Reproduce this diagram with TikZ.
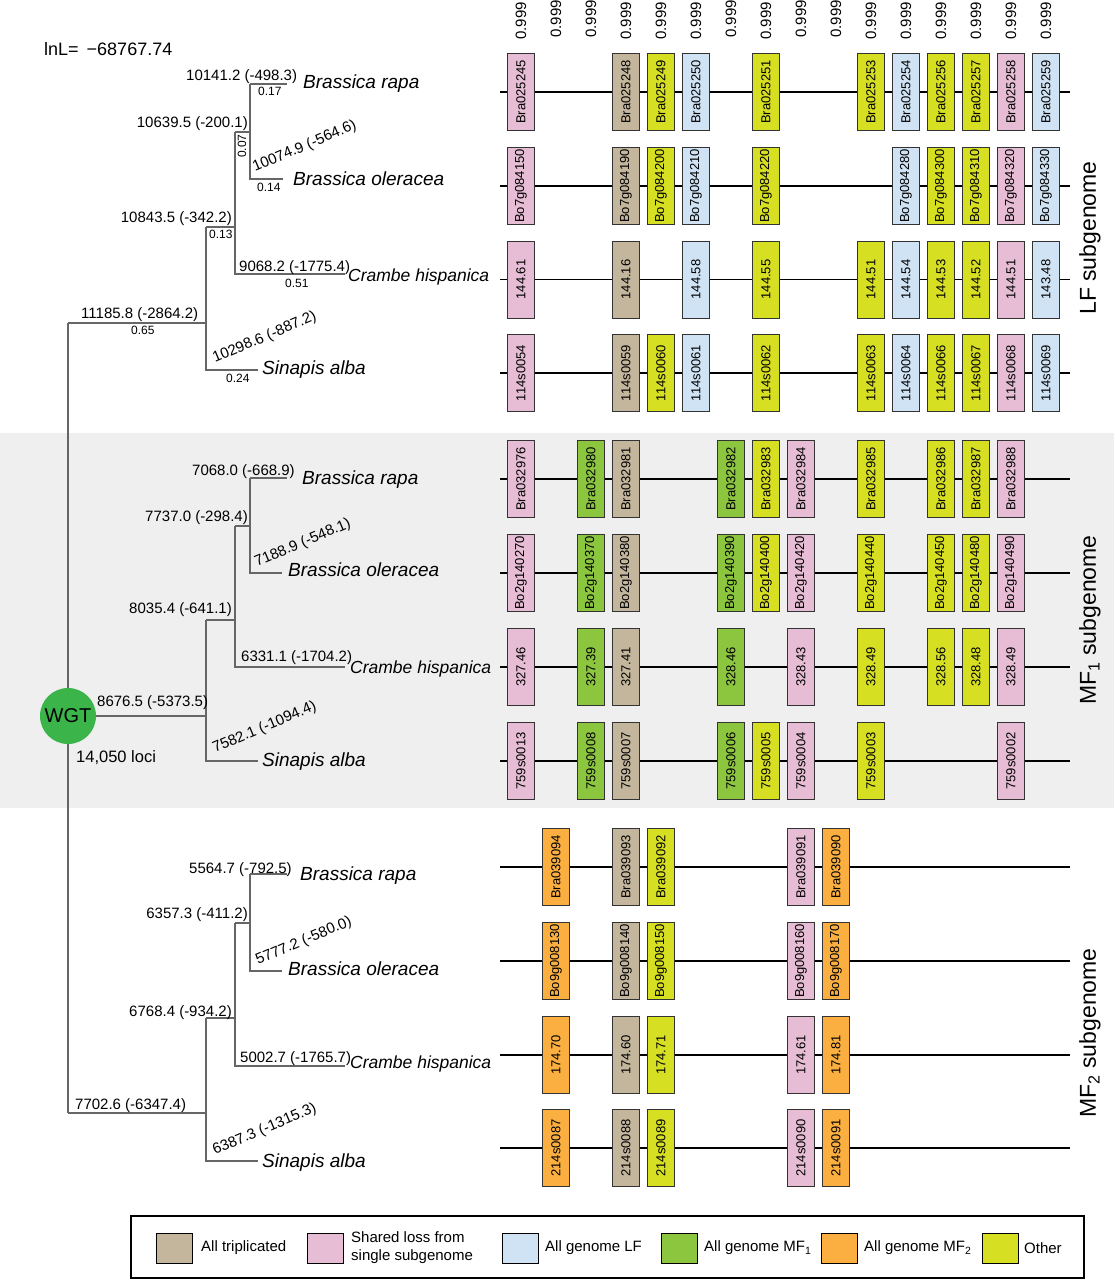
\documentclass[tikz,border=0pt]{standalone}
\usepackage{fontspec}
\setmainfont{Liberation Sans}
\definecolor{cTan}{HTML}{C3B69C}
\definecolor{cPink}{HTML}{E6BDD4}
\definecolor{cBlue}{HTML}{D0E3F4}
\definecolor{cGreen}{HTML}{8CC63F}
\definecolor{cOrange}{HTML}{FBAF40}
\definecolor{cYel}{HTML}{D7DF23}
\definecolor{cWGT}{HTML}{3BB54A}
\definecolor{cBand}{HTML}{EFEFEF}
\definecolor{cTree}{HTML}{666666}
\definecolor{cBorder}{HTML}{333333}
\tikzset{
  br/.style={draw=cTree, line width=1.1pt},
  gl/.style={draw=black, line width=1.3pt},
  gene/.style={draw=cBorder, line width=1pt, minimum width=77pt, minimum height=26.5pt, inner sep=0pt, rotate=90, font=\fontsize{13}{15}\selectfont},
  num/.style={inner sep=0pt, font=\fontsize{15}{18}\selectfont},
  rnum/.style={num, rotate=23, anchor=base west},
  bl/.style={inner sep=0pt, font=\fontsize{12}{14}\selectfont, anchor=base west},
  sp/.style={inner sep=0pt, font=\fontsize{19}{22}\selectfont\itshape, anchor=base west},
  spc/.style={inner sep=0pt, font=\fontsize{17.5}{21}\selectfont\itshape, anchor=base west},
  top/.style={inner sep=0pt, rotate=90, anchor=west, font=\fontsize{15}{18}\selectfont},
  sub/.style={inner sep=0pt, rotate=90, font=\fontsize{23}{27}\selectfont},
  swatch/.style={draw=black, line width=0.8pt, minimum width=36pt, minimum height=30pt, inner sep=0pt},
  lg/.style={inner sep=0pt, anchor=west, align=left, font=\fontsize{15}{18}\selectfont},
}
\begin{document}
\begin{tikzpicture}[x=1pt,y=-1pt]
\useasboundingbox (0,0) rectangle (1114,1280);
\fill[white] (0,0) rectangle (1114,1280);
% grey band of MF1
\fill[cBand] (0,433) rectangle (1114,808);

% ---------- tree ----------
\coordinate (R0) at (68,323);
\coordinate (R1) at (68,1113);
\draw[br] (R0) -- (R1);
% LF clade
\coordinate (L1) at (206,323);
\coordinate (L2) at (206,227);
\coordinate (L3) at (235,227);
\coordinate (L4) at (235,132);
\coordinate (L5) at (250,132);
\coordinate (L6) at (250,84);
\coordinate (LBR) at (287,84);
\coordinate (LBO) at (283,179);
\coordinate (LCH) at (345,274);
\coordinate (LSA) at (258,370);
\draw[br] (R0) -- (L1);
\draw[br] (L2) |- (LSA);
\draw[br] (L2) -- (L3);
\draw[br] (L4) |- (LCH);
\draw[br] (L4) -- (L5);
\draw[br] (L6) |- (LBO);
\draw[br] (L6) -- (LBR);
% MF1 clade
\coordinate (W) at (68,716);
\coordinate (M1) at (206,716);
\coordinate (M2) at (206,620);
\coordinate (M3) at (235,620);
\coordinate (M4) at (235,526);
\coordinate (M5) at (250,526);
\coordinate (M6) at (250,478);
\coordinate (MBR) at (287,478);
\coordinate (MBO) at (282,573);
\coordinate (MCH) at (345,667);
\coordinate (MSA) at (258,761);
\draw[br] (W) -- (M1);
\draw[br] (M2) |- (MSA);
\draw[br] (M2) -- (M3);
\draw[br] (M4) |- (MCH);
\draw[br] (M4) -- (M5);
\draw[br] (M6) |- (MBO);
\draw[br] (M6) -- (MBR);
% MF2 clade
\coordinate (N1) at (206,1113);
\coordinate (N2) at (206,1018);
\coordinate (N3) at (235,1018);
\coordinate (N4) at (235,923);
\coordinate (N5) at (250,923);
\coordinate (N6) at (250,874);
\coordinate (NBR) at (287,874);
\coordinate (NBO) at (282,971);
\coordinate (NCH) at (345,1066);
\coordinate (NSA) at (258,1161);
\draw[br] (R1) -- (N1);
\draw[br] (N2) |- (NSA);
\draw[br] (N2) -- (N3);
\draw[br] (N4) |- (NCH);
\draw[br] (N4) -- (N5);
\draw[br] (N6) |- (NBO);
\draw[br] (N6) -- (NBR);

\node[circle, fill=cWGT, minimum size=56pt, inner sep=0pt, font=\fontsize{20}{24}\selectfont] (wgt) at (W) {WGT};

% ---------- tree labels ----------
\node[num, anchor=base west, font=\fontsize{18}{21}\selectfont] (lnl) at (44,55) {lnL=\, −68767.74};
% LF
\node[num, anchor=base west] (a1) at (186,80) {10141.2 (-498.3)};
\node[bl] (a2) at (258,95) {0.17};
\node[sp] (a3) at (303,88) {Brassica rapa};
\node[num, anchor=base east] (a4) at (248,127) {10639.5 (-200.1)};
\node[inner sep=0pt, font=\fontsize{12}{14}\selectfont, rotate=90] (a5) at (242,146) {0.07};
\node[rnum] (a6) at (255,172) {10074.9 (-564.6)};
\node[bl] (a7) at (257,191) {0.14};
\node[sp] (a8) at (293,185) {Brassica oleracea};
\node[num, anchor=base east] (a9) at (232,222) {10843.5 (-342.2)};
\node[bl] (a10) at (209,238) {0.13};
\node[num, anchor=base west] (a11) at (239,271) {9068.2 (-1775.4)};
\node[bl] (a12) at (285,287) {0.51};
\node[spc] (a13) at (348,281) {Crambe hispanica};
\node[num, anchor=base west] (a14) at (81,318) {11185.8 (-2864.2)};
\node[bl] (a15) at (131,334) {0.65};
\node[rnum] (a16) at (215,363) {10298.6 (-887.2)};
\node[bl] (a17) at (226,382) {0.24};
\node[sp] (a18) at (262,374) {Sinapis alba};
% MF1
\node[num, anchor=base west] (b1) at (192,475) {7068.0 (-668.9)};
\node[sp] (b2) at (302,484) {Brassica rapa};
\node[num, anchor=base east] (b3) at (248,521) {7737.0 (-298.4)};
\node[rnum] (b4) at (257,567) {7188.9 (-548.1)};
\node[sp] (b5) at (288,576) {Brassica oleracea};
\node[num, anchor=base east] (b6) at (232,613) {8035.4 (-641.1)};
\node[num, anchor=base west] (b7) at (241,661) {6331.1 (-1704.2)};
\node[spc] (b8) at (350,673) {Crambe hispanica};
\node[num, anchor=base west] (b9) at (97,706) {8676.5 (-5373.5)};
\node[rnum] (b10) at (215,753) {7582.1 (-1094.4)};
\node[sp] (b11) at (262,766) {Sinapis alba};
\node[num, anchor=base west, font=\fontsize{16.5}{20}\selectfont] (b12) at (76,762) {14,050 loci};
% MF2
\node[num, anchor=base west] (c1) at (189,873) {5564.7 (-792.5)};
\node[sp] (c2) at (300,880) {Brassica rapa};
\node[num, anchor=base east] (c3) at (248,918) {6357.3 (-411.2)};
\node[rnum] (c4) at (258,965) {5777.2 (-580.0)};
\node[sp] (c5) at (288,975) {Brassica oleracea};
\node[num, anchor=base east] (c6) at (232,1016) {6768.4 (-934.2)};
\node[num, anchor=base west] (c7) at (240,1062) {5002.7 (-1765.7)};
\node[spc] (c8) at (350,1068) {Crambe hispanica};
\node[num, anchor=base west] (c9) at (75,1109) {7702.6 (-6347.4)};
\node[rnum] (c10) at (215,1155) {6387.3 (-1315.3)};
\node[sp] (c11) at (262,1167) {Sinapis alba};

% ---------- top labels ----------
\foreach \c/\yb in {0/40,1/38,2/38,3/40,4/40,5/40,6/38,7/40,8/38,9/38,10/40,11/40,12/40,13/40,14/40,15/40}
  \node[top] (p\c) at ({521+35*\c},\yb) {0.999};

% ---------- gene rows ----------
\foreach \r/\y in {LF1/92,LF2/186,LF3/279.5,LF4/373,MA1/479,MA2/573,MA3/667,MA4/761,MB1/867,MB2/961,MB3/1055,MB4/1148}{
  \coordinate (\r s) at (500,\y);
  \coordinate (\r e) at (1070,\y);
  \draw[gl] (\r s) -- (\r e);
}
% LF subgenome
\foreach \c/\f/\t in {0/cPink/Bra025245,3/cTan/Bra025248,4/cYel/Bra025249,5/cBlue/Bra025250,7/cYel/Bra025251,10/cYel/Bra025253,11/cBlue/Bra025254,12/cYel/Bra025256,13/cYel/Bra025257,14/cPink/Bra025258,15/cBlue/Bra025259}
  \node[gene, fill=\f] (LF1g\c) at ({521+35*\c},92) {\t};
\foreach \c/\f/\t in {0/cPink/Bo7g084150,3/cTan/Bo7g084190,4/cYel/Bo7g084200,5/cBlue/Bo7g084210,7/cYel/Bo7g084220,11/cBlue/Bo7g084280,12/cYel/Bo7g084300,13/cYel/Bo7g084310,14/cPink/Bo7g084320,15/cBlue/Bo7g084330}
  \node[gene, fill=\f] (LF2g\c) at ({521+35*\c},186) {\t};
\foreach \c/\f/\t in {0/cPink/144.61,3/cTan/144.16,5/cBlue/144.58,7/cYel/144.55,10/cYel/144.51,11/cBlue/144.54,12/cYel/144.53,13/cYel/144.52,14/cPink/144.51,15/cBlue/143.48}
  \node[gene, fill=\f] (LF3g\c) at ({521+35*\c},279.5) {\t};
\foreach \c/\f/\t in {0/cPink/114s0054,3/cTan/114s0059,4/cYel/114s0060,5/cBlue/114s0061,7/cYel/114s0062,10/cYel/114s0063,11/cBlue/114s0064,12/cYel/114s0066,13/cYel/114s0067,14/cPink/114s0068,15/cBlue/114s0069}
  \node[gene, fill=\f] (LF4g\c) at ({521+35*\c},373) {\t};
% MF1 subgenome
\foreach \c/\f/\t in {0/cPink/Bra032976,2/cGreen/Bra032980,3/cTan/Bra032981,6/cGreen/Bra032982,7/cYel/Bra032983,8/cPink/Bra032984,10/cYel/Bra032985,12/cYel/Bra032986,13/cYel/Bra032987,14/cPink/Bra032988}
  \node[gene, fill=\f] (MA1g\c) at ({521+35*\c},479) {\t};
\foreach \c/\f/\t in {0/cPink/Bo2g140270,2/cGreen/Bo2g140370,3/cTan/Bo2g140380,6/cGreen/Bo2g140390,7/cYel/Bo2g140400,8/cPink/Bo2g140420,10/cYel/Bo2g140440,12/cYel/Bo2g140450,13/cYel/Bo2g140480,14/cPink/Bo2g140490}
  \node[gene, fill=\f] (MA2g\c) at ({521+35*\c},573) {\t};
\foreach \c/\f/\t in {0/cPink/327.46,2/cGreen/327.39,3/cTan/327.41,6/cGreen/328.46,8/cPink/328.43,10/cYel/328.49,12/cYel/328.56,13/cYel/328.48,14/cPink/328.49}
  \node[gene, fill=\f] (MA3g\c) at ({521+35*\c},667) {\t};
\foreach \c/\f/\t in {0/cPink/759s0013,2/cGreen/759s0008,3/cTan/759s0007,6/cGreen/759s0006,7/cYel/759s0005,8/cPink/759s0004,10/cYel/759s0003,14/cPink/759s0002}
  \node[gene, fill=\f] (MA4g\c) at ({521+35*\c},761) {\t};
% MF2 subgenome
\foreach \c/\f/\t in {1/cOrange/Bra039094,3/cTan/Bra039093,4/cYel/Bra039092,8/cPink/Bra039091,9/cOrange/Bra039090}
  \node[gene, fill=\f] (MB1g\c) at ({521+35*\c},867) {\t};
\foreach \c/\f/\t in {1/cOrange/Bo9g008130,3/cTan/Bo9g008140,4/cYel/Bo9g008150,8/cPink/Bo9g008160,9/cOrange/Bo9g008170}
  \node[gene, fill=\f] (MB2g\c) at ({521+35*\c},961) {\t};
\foreach \c/\f/\t in {1/cOrange/174.70,3/cTan/174.60,4/cYel/174.71,8/cPink/174.61,9/cOrange/174.81}
  \node[gene, fill=\f] (MB3g\c) at ({521+35*\c},1055) {\t};
\foreach \c/\f/\t in {1/cOrange/214s0087,3/cTan/214s0088,4/cYel/214s0089,8/cPink/214s0090,9/cOrange/214s0091}
  \node[gene, fill=\f] (MB4g\c) at ({521+35*\c},1148) {\t};

% ---------- subgenome labels ----------
\node[sub] (s1) at (1090,238) {LF subgenome};
\node[sub] (s2) at (1090,620) {MF\textsubscript{1} subgenome};
\node[sub] (s3) at (1090,1033) {MF\textsubscript{2} subgenome};

% ---------- legend ----------
\draw[line width=1.2pt] (131,1216) rectangle (1084,1278);
\node[swatch, fill=cTan] (k1) at (174,1248) {};
\node[lg] (k1t) at (201,1248) {All triplicated};
\node[swatch, fill=cPink] (k2) at (325,1248) {};
\node[lg] (k2t) at (351,1248) {Shared loss from\\single subgenome};
\node[swatch, fill=cBlue] (k3) at (520,1248) {};
\node[lg] (k3t) at (545,1248) {All genome LF};
\node[swatch, fill=cGreen] (k4) at (679,1248) {};
\node[lg] (k4t) at (704,1248) {All genome MF\textsubscript{1}};
\node[swatch, fill=cOrange] (k5) at (839,1248) {};
\node[lg] (k5t) at (864,1248) {All genome MF\textsubscript{2}};
\node[swatch, fill=cYel] (k6) at (1000,1248) {};
\node[lg] (k6t) at (1024,1248) {Other};
\end{tikzpicture}
\end{document}
